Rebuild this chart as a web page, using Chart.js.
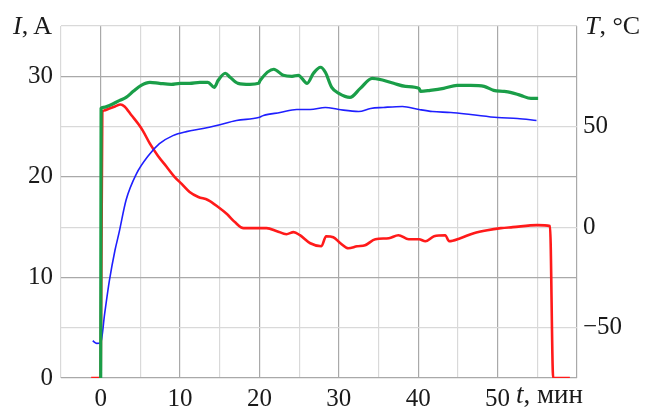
<!DOCTYPE html>
<html>
<head>
<meta charset="utf-8">
<script src="https://cdn.jsdelivr.net/npm/chart.js@4.4.1/dist/chart.umd.min.js"></script>
<style>
  body { margin: 0; background: #fff; }
  #wrap { position: relative; width: 649px; height: 409px; }
  .lbl { position: absolute; font-family: "Liberation Serif", "DejaVu Serif", serif; font-size: 26px; line-height: 1; color: #1a1a1a; white-space: nowrap; }
</style>
</head>
<body>
<div id="wrap">
  <canvas id="myChart" width="649" height="409"></canvas>
  <div class="lbl" style="left:13px; top:13px;"><i>I</i>, A</div>
  <div class="lbl" style="left:585px; top:13px;"><i>T</i>, °C</div>
  <div class="lbl" style="left:516px; top:381px; font-size:27px;"><i>t</i>, мин</div>
</div>
<script>
// red curve: current, A (left axis)
const redT = [-1.2, 0.0, 0.2, 0.4, 1.1, 1.8, 2.5, 3.0, 3.9, 4.7, 5.3, 6.2, 7.2, 8.3, 9.3, 10.2, 11.2, 12.3, 13.5, 14.8, 15.9, 16.9, 18.0, 20.9, 22.2, 23.4, 24.3, 25.1, 26.4, 27.8, 28.4, 29.3, 30.2, 31.2, 32.3, 33.3, 34.6, 36.3, 37.5, 38.8, 40.1, 40.9, 42.0, 43.4, 43.9, 45.3, 47.0, 48.7, 50.4, 51.9, 55.0, 56.6, 57.0, 59.1];
const redI = [0, 0, 26.4, 26.6, 26.8, 27.0, 27.2, 27.0, 26.1, 25.3, 24.6, 23.3, 22.1, 21.0, 20.0, 19.3, 18.5, 18.0, 17.7, 17.0, 16.3, 15.5, 14.9, 14.9, 14.6, 14.3, 14.5, 14.2, 13.4, 13.1, 14.1, 14.0, 13.4, 12.9, 13.1, 13.2, 13.8, 13.9, 14.2, 13.8, 13.8, 13.6, 14.1, 14.2, 13.6, 13.9, 14.4, 14.7, 14.9, 15.0, 15.2, 15.1, 0, 0];

// green curve, A (left axis)
const greenT = [0.0, 0.05, 0.3, 1.1, 2.4, 3.2, 4.1, 5.1, 6.2, 7.4, 8.9, 10.0, 11.2, 12.5, 13.5, 14.3, 14.8, 15.7, 16.3, 17.3, 18.8, 19.9, 20.1, 21.8, 23.0, 24.1, 24.9, 26.0, 26.8, 27.7, 28.3, 29.1, 30.0, 31.4, 32.7, 34.2, 35.6, 36.9, 38.4, 40.1, 40.3, 41.5, 43.2, 44.9, 46.6, 48.3, 49.5, 50.8, 51.6, 52.9, 54.2, 55.1];
const greenI = [0, 26.8, 26.9, 27.1, 27.6, 27.9, 28.5, 29.1, 29.4, 29.3, 29.2, 29.3, 29.3, 29.4, 29.4, 28.9, 29.6, 30.3, 29.9, 29.3, 29.2, 29.3, 29.6, 30.7, 30.1, 30.0, 30.1, 29.3, 30.3, 30.9, 30.4, 28.9, 28.3, 27.9, 28.8, 29.8, 29.6, 29.3, 29.0, 28.8, 28.5, 28.6, 28.8, 29.1, 29.1, 29.0, 28.6, 28.5, 28.4, 28.1, 27.8, 27.8];

// blue curve: temperature, °C (right axis)
const blueT = [-1.0, -0.5, 0.0, 0.5, 1.1, 1.8, 2.3, 3.2, 4.5, 6.0, 7.4, 9.1, 10.8, 12.9, 14.6, 17.1, 19.9, 20.5, 22.6, 24.7, 26.4, 28.3, 30.0, 32.5, 34.0, 35.6, 38.0, 40.1, 41.8, 44.1, 46.6, 50.0, 52.5, 54.9];
const blueC = [-56.5, -57.8, -57.5, -43, -26.5, -11.5, -3, 13.5, 26.5, 35.5, 41.5, 45.5, 47.5, 49, 50.5, 53, 54.5, 55.5, 57, 58.5, 58.5, 59.5, 58.5, 57.5, 59, 59.5, 60, 58.5, 57.5, 57, 56, 54.5, 54, 53];

// tick labels
const xLabels = [0, 10, 20, 30, 40, 50];
const yLabels = [0, 10, 20, 30];
const y1Labels = [-50, 0, 50];

const serif = '"Liberation Serif", "DejaVu Serif", serif';

function pairs(xs, ys) {
  return xs.map((x, i) => ({ x: x, y: ys[i] }));
}

// darker lines every 10 units, lighter ones in between
function gridColor(ctx) {
  const v = ctx.tick ? ctx.tick.value : 0;
  return (v % 10 === 0) ? '#a9a9a9' : '#d9d9d9';
}

let ctx = document.getElementById('myChart').getContext('2d');

let myChart = new Chart(ctx, {
  type: 'line',
  data: {
    datasets: [
      { data: pairs(greenT, greenI), borderColor: '#1a9e48', borderWidth: 3.2, yAxisID: 'y' },
      { data: pairs(blueT, blueC), borderColor: '#1f1fff', borderWidth: 1.6, yAxisID: 'y1' },
      { data: pairs(redT, redI), borderColor: '#ff1a1a', borderWidth: 2.6, yAxisID: 'y' }
    ]
  },
  options: {
    responsive: false,
    animation: false,
    events: [],
    layout: { padding: { top: 26, left: 0, right: 0, bottom: 0 } },
    elements: {
      point: { radius: 0 },
      line: { cubicInterpolationMode: 'monotone', fill: false }
    },
    plugins: {
      legend: { display: false },
      tooltip: { enabled: false }
    },
    scales: {
      x: {
        type: 'linear',
        min: -5,
        max: 60,
        afterFit: (s) => { s.height = 31; },
        grid: { color: gridColor, drawTicks: false, lineWidth: 1.2 },
        border: { display: false },
        ticks: {
          stepSize: 5,
          padding: 6,
          maxRotation: 0,
          autoSkip: false,
          color: '#1a1a1a',
          font: { family: serif, size: 25 },
          callback: (v) => xLabels.includes(v) ? String(v) : ''
        }
      },
      y: {
        position: 'left',
        min: 0,
        max: 35,
        afterFit: (s) => { s.width = 61; },
        grid: { color: gridColor, drawTicks: false, lineWidth: 1.2 },
        border: { display: false },
        ticks: {
          stepSize: 5,
          padding: 8,
          autoSkip: false,
          color: '#1a1a1a',
          font: { family: serif, size: 25 },
          callback: (v) => yLabels.includes(v) ? String(v) : ''
        }
      },
      y1: {
        position: 'right',
        min: -75,
        max: 100,
        afterFit: (s) => { s.width = 72; },
        grid: { display: false, drawTicks: false },
        border: { display: false },
        ticks: {
          stepSize: 25,
          padding: 6,
          autoSkip: false,
          color: '#1a1a1a',
          font: { family: serif, size: 25 },
          callback: (v) => y1Labels.includes(v) ? String(v).replace('-', '\u2212') : ''
        }
      }
    }
  }
});
</script>
</body>
</html>
